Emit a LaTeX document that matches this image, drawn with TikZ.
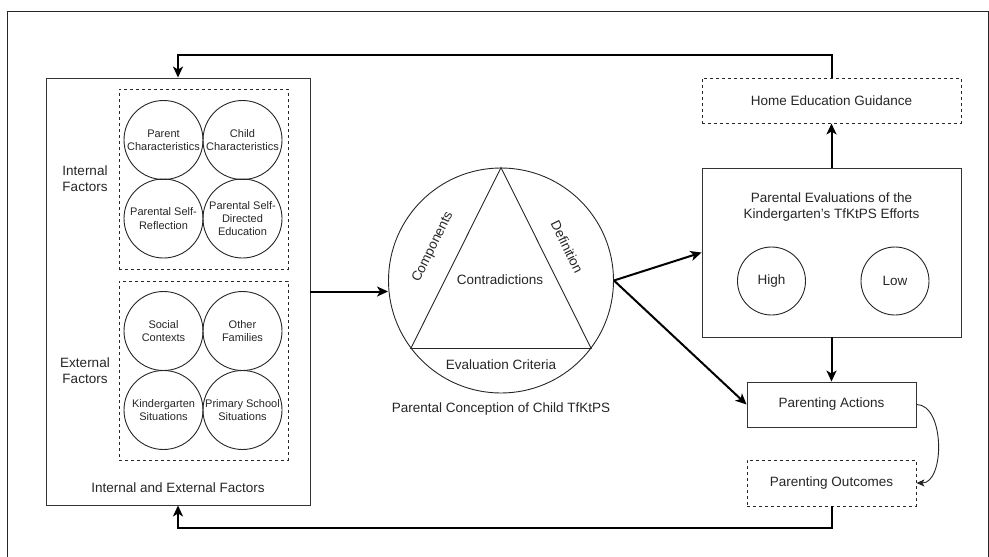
\documentclass[tikz,border=0pt]{standalone}
\usepackage{fontspec}
\setmainfont{Liberation Sans}
\usetikzlibrary{arrows.meta,calc}
\begin{document}
\begin{tikzpicture}[x=1pt,y=-1pt,
  txt/.style={font=\fontsize{13.5}{16}\selectfont, align=center, inner sep=0pt, text=black!85},
  small/.style={font=\fontsize{11}{13.3}\selectfont, align=center, inner sep=0pt, text=black!85},
  solidbox/.style={draw=black!80, line width=0.9pt, inner sep=0pt},
  dashbox/.style={draw=black!85, line width=0.9pt, dash pattern=on 3pt off 3pt, inner sep=0pt},
  fcircle/.style={draw=black!85, line width=0.9pt, circle, minimum size=79pt, inner sep=0pt,
     font=\fontsize{11}{13.3}\selectfont, align=center, text=black!85},
  arr/.style={draw=black, line width=2pt, -{Stealth[length=11pt,width=10pt,inset=3pt]}},
  thinarr/.style={draw=black!85, line width=0.9pt, -{Stealth[length=8pt,width=7pt,inset=2pt]}}
]
\useasboundingbox (0,0) rectangle (989,557);
% outer frame
\draw[black!85, line width=0.9pt] (7,570) -- (7,11) -- (988,11) -- (988,570);

% left box
\node[solidbox, minimum width=264pt, minimum height=427pt] (factors) at (178,291.5) {};
\node[txt] (factorslbl) at (178,488) {Internal and External Factors};
\node[dashbox, minimum width=169pt, minimum height=180pt] (intbox) at (203.5,179) {};
\node[dashbox, minimum width=169pt, minimum height=179pt] (extbox) at (203.5,370.5) {};
\node[txt] (intlbl) at (85,179) {Internal\\Factors};
\node[txt] (extlbl) at (85,371) {External\\Factors};

\node[fcircle] (pc) at (163.5,140) {Parent\\Characteristics};
\node[fcircle] (cc) at (242.5,140) {Child\\Characteristics};
\node[fcircle] (psr) at (163.5,218.5) {Parental Self-\\Reflection};
\node[fcircle] (psd) at (242.5,218.5) {Parental Self-\\Directed\\Education};
\node[fcircle] (sc) at (163.5,331) {Social\\Contexts};
\node[fcircle] (of) at (242.5,331) {Other\\Families};
\node[fcircle] (ks) at (163.5,410) {Kindergarten\\Situations};
\node[fcircle] (ps) at (242.5,410) {Primary School\\Situations};

% concept circle
\node[draw=black!85, line width=0.9pt, circle, minimum size=225pt, inner sep=0pt] (concept) at (501,280.5) {};
\draw[black!85, line width=0.9pt] (concept.90) -- (concept.-37.6) -- (concept.217.6) -- cycle;
\node[txt, rotate=63.8] (comp) at (433,247) {Components};
\node[txt, rotate=-63.8] (defn) at (567,247) {Definition};
\node[txt] (contr) at (500,280) {Contradictions};
\node[txt] (evalc) at (501,365) {Evaluation Criteria};
\node[txt] (conclbl) at (501,409) {Parental Conception of Child TfKtPS};

% right side
\node[dashbox, minimum width=259pt, minimum height=45pt, txt] (home) at (831.5,100.5) {Home Education Guidance};
\node[solidbox, minimum width=259pt, minimum height=169pt] (eval) at (831.5,252.5) {};
\node[txt] (evallbl) at (831.5,207.5) {Parental Evaluations of the\\Kindergarten’s TfKtPS Efforts};
\node[draw=black!85, line width=0.9pt, circle, minimum size=68pt, inner sep=0pt, txt] (high) at (771.5,281) {High};
\node[draw=black!85, line width=0.9pt, circle, minimum size=68pt, inner sep=0pt, txt] (low) at (895,281) {Low};
\node[solidbox, minimum width=169pt, minimum height=45pt, txt] (actions) at (831.5,404.5) {Parenting Actions};
\node[dashbox, minimum width=169pt, minimum height=46pt, txt] (outcomes) at (831.5,483) {Parenting Outcomes};

% connectors
\draw[arr] (factors.east) -- (factors.east -| concept.west);
\draw[arr] (concept.east) -- (eval.west);
\draw[arr] (concept.east) -- (actions.west);
\draw[arr] (eval.south) -- (actions.north);
\draw[arr] (eval.north) -- (home.south);
\draw[arr] (home.north) -- ++(0,-23) -| (factors.north);
\draw[arr] (outcomes.south) -- ++(0,22) -| (factors.south);
\draw[thinarr] (actions.east) .. controls (945,404.5) and (945,483) .. (outcomes.east);
\end{tikzpicture}
\end{document}
